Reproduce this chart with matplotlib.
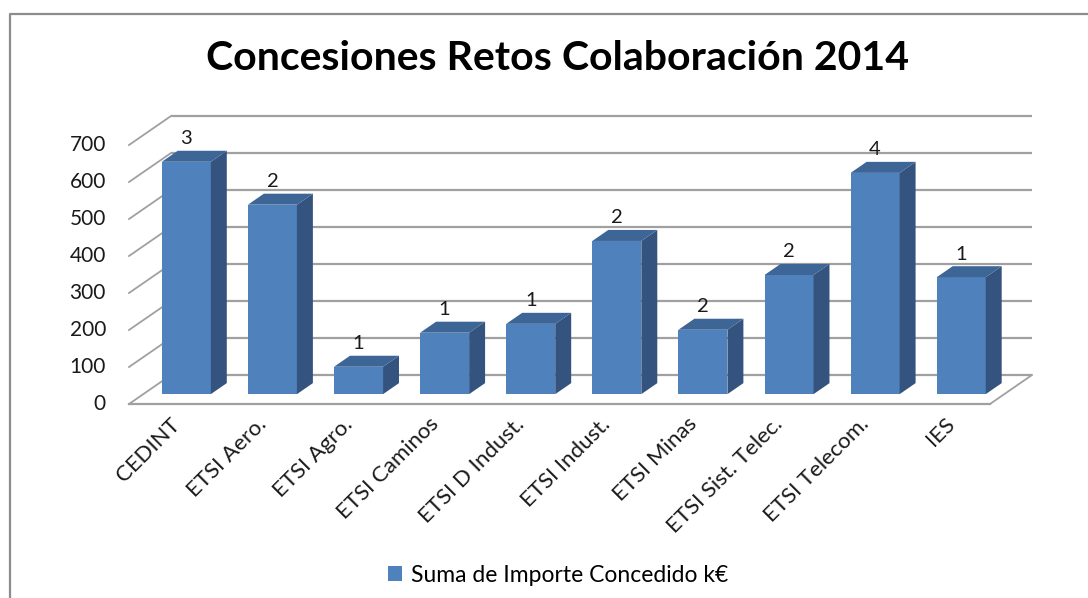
import matplotlib
matplotlib.use('Agg')
import matplotlib.pyplot as plt
from matplotlib.patches import Polygon
from matplotlib.lines import Line2D
import matplotlib.transforms as mtransforms

plt.rcParams['font.family'] = ['Lato', 'DejaVu Sans']

# ---------------- data ----------------
categories = ['CEDINT', 'ETSI Aero.', 'ETSI Agro.', 'ETSI Caminos', 'ETSI D Indust.',
              'ETSI Indust.', 'ETSI Minas', 'ETSI Sist. Telec.', 'ETSI Telecom.', 'IES']
importe = [628, 512, 74, 166, 190, 414, 174, 322, 598, 316]
n_retos = [3, 2, 1, 1, 1, 2, 2, 2, 4, 1]
yticks = [0, 100, 200, 300, 400, 500, 600, 700]
title = 'Concesiones Retos Colaboración 2014'
series_name = 'Suma de Importe Concedido k€'

# ---------------- style ----------------
W, H = 1088, 598
FRONT = '#4F81BD'
SIDE = '#34547F'
TOP = '#3D6596'
GRID = '#A0A0A0'

fig = plt.figure(figsize=(W / 100, H / 100), dpi=100)
fig.patch.set_facecolor('white')

# back wall of the 3-D box (pixels)
L, R, B, T = 171, 1032, 375, 116
ax = fig.add_axes([L / W, 1 - B / H, (R - L) / W, (B - T) / H])
ax.set_xlim(-0.5, len(categories) - 0.5)
ax.set_ylim(0, 700)
for s in ax.spines.values():
    s.set_visible(False)
ax.set_xticks([])
ax.set_yticks([])
ax.patch.set_alpha(0)

px_cat = (R - L) / len(categories)
px_val = (B - T) / 700.0
DX = -42 / px_cat      # full depth offset (category units)
DY = -29 / px_val      # full depth offset (value units)
f_front, f_back = 0.66, 0.28
BW = 49 / px_cat

x0, x1 = -0.5, len(categories) - 0.5

# back-wall gridlines and left side wall lines
for v in yticks:
    ax.plot([x0, x1], [v, v], color=GRID, lw=1.6, clip_on=False, zorder=1,
            solid_capstyle='butt')
    ax.plot([x0, x0 + DX], [v, v + DY], color=GRID, lw=1.3, clip_on=False, zorder=1)
# floor
ax.plot([x0 + DX, x1 + DX], [DY, DY], color=GRID, lw=1.6, clip_on=False, zorder=1)
ax.plot([x1, x1 + DX], [0, DY], color=GRID, lw=1.3, clip_on=False, zorder=1)

# bars (front faces)
xs = list(range(len(categories)))
xf = [x + DX * f_front for x in xs]
xb = [x + DX * f_back for x in xs]
bars = ax.bar(xf, importe, width=BW, bottom=DY * f_front, color=FRONT,
              edgecolor='none', zorder=3, clip_on=False, label=series_name)
for i, v in enumerate(importe):
    yf0 = DY * f_front
    yb0 = DY * f_back
    side = Polygon([(xf[i] + BW / 2, yf0), (xf[i] + BW / 2, yf0 + v),
                    (xb[i] + BW / 2, yb0 + v), (xb[i] + BW / 2, yb0)],
                   closed=True, facecolor=SIDE, edgecolor='none', zorder=3, clip_on=False)
    top = Polygon([(xf[i] - BW / 2, yf0 + v), (xf[i] + BW / 2, yf0 + v),
                   (xb[i] + BW / 2, yb0 + v), (xb[i] - BW / 2, yb0 + v)],
                  closed=True, facecolor=TOP, edgecolor='none', zorder=3, clip_on=False)
    ax.add_patch(side)
    ax.add_patch(top)

ax.bar_label(bars, labels=[str(c) for c in n_retos], padding=10.5,
             fontsize=14.5, color='#1a1a1a')

# y tick labels at the front-left edge
off_y = mtransforms.ScaledTranslation(-65 / 100, -29 / 100, fig.dpi_scale_trans)
for v in yticks:
    ax.text(x0, v, str(v), transform=ax.transData + off_y, ha='right', va='center',
            fontsize=15, color='#1a1a1a', clip_on=False)

# category labels at the front floor edge
off_x = mtransforms.ScaledTranslation(-2 / 100, -10 / 100, fig.dpi_scale_trans)
for i, c in enumerate(categories):
    ax.text(i + DX, DY, c, transform=ax.transData + off_x, ha='right', va='top',
            rotation=45, rotation_mode='anchor', fontsize=16, color='#1a1a1a',
            clip_on=False)

# title
fig.text(558 / W, 1 - 58 / H, title, ha='center', va='center', fontsize=29.5,
         fontweight='bold', color='black')

# legend
ax.legend(handles=[bars], loc='center', bbox_to_anchor=(558 / W, 1 - 575 / H),
          bbox_transform=fig.transFigure, frameon=False, fontsize=16.5,
          handlelength=0.6, handleheight=0.6, handletextpad=0.4)

# chart border
fig.add_artist(Line2D([10 / W, 10 / W, 1.0], [0.0, 1 - 14 / H, 1 - 14 / H],
                      transform=fig.transFigure, color='#8C8C8C', lw=1.6))

fig.savefig('out.png', dpi=100)
